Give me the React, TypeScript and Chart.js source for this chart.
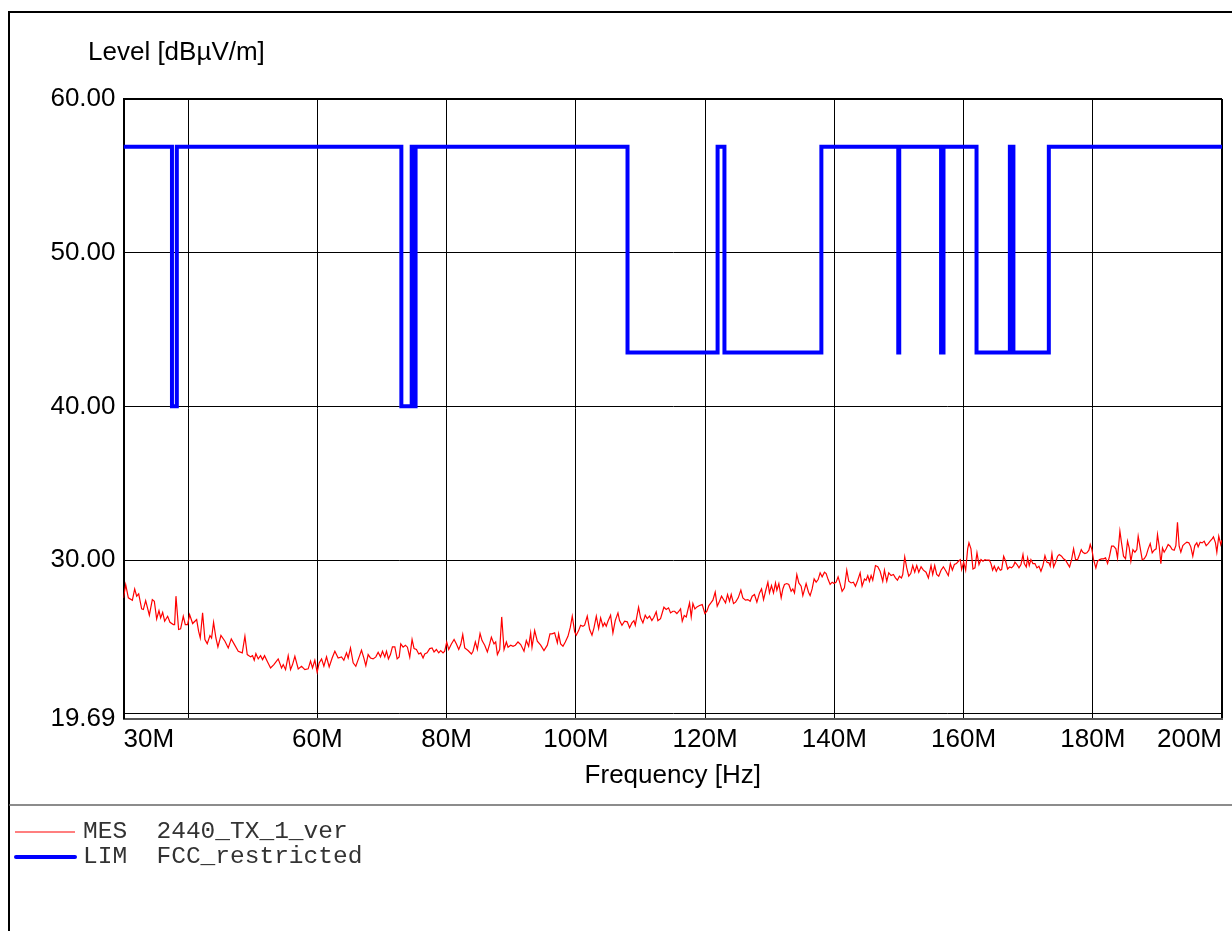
import React, { useEffect, useRef } from "react";
import { Chart, registerables } from "chart.js";

Chart.register(...registerables);

// ---------- data ----------
const Y_TITLE = "Level [dBµV/m]";
const X_TITLE = "Frequency [Hz]";
const X_TICKS = [30, 40, 60, 80, 100, 120, 140, 160, 180, 200];
const X_TICK_LABELS = ["30M", "", "60M", "80M", "100M", "120M", "140M", "160M", "180M", "200M"];
const Y_TICKS = [19.69, 20, 30, 40, 50, 60];
const Y_TICK_LABELS = ["19.69", "", "30.00", "40.00", "50.00", "60.00"];

const LEGEND_KIND = ["MES", "LIM"];
const LEGEND_NAME = ["2440_TX_1_ver", "FCC_restricted"];

// measured level (MHz / dBµV/m)
const MES_FREQ = [
  30.0, 30.34, 30.75, 31.37, 31.73, 32.04, 32.35, 32.81, 33.07, 33.43,
  34.0, 34.46, 34.77, 35.13, 35.49, 35.75, 36.06, 36.37, 36.83, 37.19,
  37.71, 37.91, 38.12, 38.53, 38.84, 39.25, 39.56, 39.92, 40.23, 40.7,
  41.32, 41.62, 41.88, 42.24, 42.6, 42.96, 43.38, 43.63, 43.94, 44.3,
  44.61, 45.08, 45.7, 46.21, 46.68, 47.09, 47.76, 48.38, 48.79, 49.15,
  49.67, 49.97, 50.23, 50.49, 50.85, 51.21, 51.52, 51.83, 52.24, 52.76,
  53.27, 53.94, 54.46, 54.72, 55.08, 55.49, 55.85, 56.16, 56.52, 57.04,
  57.55, 58.07, 58.58, 58.94, 59.25, 59.61, 59.97, 60.28, 60.65, 61.01,
  61.42, 61.83, 62.29, 62.71, 63.22, 63.74, 64.1, 64.51, 64.77, 65.13,
  65.54, 65.95, 66.47, 66.83, 67.19, 67.5, 67.86, 68.22, 68.63, 69.05,
  69.41, 69.77, 70.08, 70.44, 70.7, 71.0, 71.31, 71.62, 71.99, 72.35,
  72.66, 72.91, 73.27, 73.63, 73.94, 74.3, 74.66, 74.97, 75.33, 75.69,
  76.0, 76.36, 76.62, 76.98, 77.39, 77.75, 78.06, 78.42, 78.78, 79.09,
  79.45, 79.71, 80.02, 80.33, 80.74, 81.16, 81.52, 81.88, 82.19, 82.5,
  82.81, 83.32, 83.84, 84.09, 84.45, 84.76, 85.18, 85.49, 85.9, 86.31,
  86.67, 86.93, 87.34, 87.6, 87.86, 88.22, 88.53, 88.89, 89.25, 89.51,
  89.92, 90.28, 90.64, 91.05, 91.47, 91.98, 92.34, 92.7, 93.01, 93.22,
  93.63, 94.04, 94.56, 95.07, 95.59, 96.0, 96.31, 96.72, 97.14, 97.34,
  97.65, 98.01, 98.37, 98.78, 99.15, 99.45, 99.82, 100.07, 100.43, 100.74,
  101.1, 101.36, 101.77, 102.14, 102.5, 102.81, 103.17, 103.53, 103.84, 104.2,
  104.45, 104.71, 104.97, 105.38, 105.74, 106.1, 106.52, 106.77, 107.14, 107.55,
  107.96, 108.32, 108.68, 108.99, 109.2, 109.71, 110.02, 110.38, 110.74, 111.05,
  111.41, 111.77, 112.08, 112.44, 112.7, 113.11, 113.63, 113.99, 114.35, 114.66,
  115.02, 115.28, 115.64, 115.95, 116.21, 116.47, 116.78, 117.09, 117.35, 117.6,
  117.86, 118.12, 118.43, 118.74, 119.15, 119.56, 119.97, 120.28, 120.59, 120.9,
  121.21, 121.57, 121.88, 122.24, 122.55, 122.86, 123.17, 123.48, 123.79, 124.05,
  124.41, 124.72, 125.13, 125.54, 125.85, 126.26, 126.62, 126.98, 127.29, 127.65,
  128.02, 128.43, 128.74, 129.05, 129.36, 129.72, 129.97, 130.28, 130.59, 130.9,
  131.11, 131.42, 131.78, 132.04, 132.29, 132.65, 132.96, 133.32, 133.58, 133.84,
  134.2, 134.51, 134.87, 135.13, 135.39, 135.64, 136.01, 136.26, 136.57, 136.88,
  137.19, 137.5, 137.81, 138.12, 138.48, 138.74, 139.05, 139.36, 139.67, 139.97,
  140.28, 140.59, 140.9, 141.21, 141.57, 141.93, 142.24, 142.6, 142.96, 143.27,
  143.63, 144.0, 144.3, 144.67, 144.92, 145.18, 145.44, 145.7, 145.95, 146.37,
  146.73, 147.09, 147.5, 147.76, 148.12, 148.43, 148.79, 149.15, 149.46, 149.77,
  150.08, 150.39, 150.59, 150.9, 151.21, 151.52, 151.83, 152.14, 152.45, 152.76,
  153.07, 153.43, 153.79, 154.2, 154.56, 154.97, 155.23, 155.54, 155.85, 156.16,
  156.52, 156.88, 157.29, 157.55,
  157.65, 157.96, 158.27, 158.58, 158.89, 159.2, 159.5, 159.71, 160.02, 160.33,
  160.64, 160.84, 161.15, 161.46, 161.77, 162.08, 162.39, 162.7, 163.01, 163.32,
  163.63, 163.99, 164.25, 164.5, 164.76, 165.07, 165.38, 165.69, 165.9, 166.21,
  166.52, 166.82, 167.13, 167.44, 167.75, 167.96, 168.27, 168.58, 168.89, 169.2,
  169.4, 169.71, 169.92, 170.17, 170.43, 170.74, 171.05, 171.36, 171.67, 171.98,
  172.29, 172.6, 172.91, 173.22, 173.42, 173.68, 173.94, 174.25, 174.56, 174.81,
  175.17, 175.48, 175.79, 176.1, 176.41, 176.72, 177.03, 177.34, 177.65, 177.96,
  178.22, 178.47, 178.78, 179.09, 179.4, 179.61, 179.87, 180.12, 180.48, 180.74,
  181.05, 181.36, 181.67, 181.98, 182.29, 182.6, 182.91, 183.22, 183.58, 183.83,
  184.2, 184.45, 184.76, 185.07, 185.38, 185.64, 185.9, 186.21, 186.52, 186.82,
  187.03, 187.34, 187.65, 187.96, 188.27, 188.58, 188.89, 189.2, 189.5, 189.81,
  190.02, 190.28, 190.54, 190.79, 191.05, 191.36, 191.67, 191.98, 192.29, 192.6,
  192.86, 193.11, 193.37, 193.63, 193.94, 194.25, 194.56, 194.87, 195.17, 195.48,
  195.79, 196.1, 196.31, 196.62, 196.93, 197.24, 197.55, 197.86, 198.16, 198.47,
  198.68, 198.99, 199.2, 199.5, 199.81, 200.0,
];

const MES_LEVEL = [
  27.54, 28.40, 27.54, 27.38, 28.12, 27.65, 27.80, 26.82, 26.78, 27.36,
  26.41, 27.43, 27.32, 26.17, 26.71, 26.24, 26.60, 26.02, 26.34, 25.95,
  25.80, 25.80, 27.65, 25.48, 25.52, 26.34, 25.80, 25.80, 26.45, 25.87,
  26.13, 25.37, 24.93, 26.56, 24.83, 24.56, 25.09, 24.93, 25.95, 24.93,
  24.35, 25.09, 24.72, 24.28, 24.87, 24.56, 24.07, 23.96, 25.04, 23.85,
  23.70, 23.78, 23.48, 23.91, 23.57, 23.78, 23.52, 23.78, 23.42, 22.98,
  23.20, 23.57, 22.98, 23.20, 22.87, 23.78, 22.87, 23.20, 23.74, 22.92,
  23.09, 22.87, 22.92, 23.42, 22.98, 23.48, 22.70, 23.31, 23.57, 23.09,
  23.70, 23.05, 23.63, 24.07, 23.63, 23.70, 23.48, 23.96, 23.63, 24.28,
  23.31, 23.09, 23.70, 24.13, 23.63, 23.13, 23.85, 23.63, 23.57, 23.70,
  24.00, 23.70, 24.07, 23.70, 24.07, 23.57, 23.85, 24.35, 24.35, 23.57,
  23.70, 24.54, 24.33, 24.46, 24.33, 23.68, 24.83, 24.24, 24.18, 23.89,
  23.96, 23.63, 23.89, 23.96, 24.24, 24.28, 24.02, 24.18, 23.96, 24.11,
  23.96, 24.07, 24.67, 24.18, 24.54, 24.83, 24.54, 24.18, 24.50, 25.15,
  24.28, 24.11, 23.89, 24.07, 24.67, 24.18, 25.22, 24.76, 24.46, 24.02,
  24.54, 24.98, 24.54, 24.67, 23.85, 24.18, 26.30, 24.18, 24.67, 24.33,
  24.46, 24.39, 24.46, 24.67, 24.50, 24.07, 24.76, 24.39, 25.26, 24.33,
  25.41, 24.72, 24.46, 24.11, 24.46, 25.20, 25.20, 25.26, 24.61, 25.20,
  24.54, 24.39, 24.67, 25.04, 25.63, 26.35, 25.33, 25.11, 25.41, 25.76,
  25.69, 25.76, 26.35, 25.48, 25.11, 25.59, 26.35, 25.54, 26.24, 25.69,
  25.91, 25.69, 26.02, 26.41, 25.26, 26.06, 26.56, 26.06, 25.76, 26.02,
  25.98, 25.59, 25.91, 26.06, 25.76, 26.93, 26.24, 25.91, 26.41, 26.19,
  26.35, 26.06, 26.28, 26.63, 26.06, 26.19, 26.93, 26.78, 26.89, 26.56,
  26.67, 26.67, 26.52, 26.67, 26.82, 26.02, 26.39, 26.30, 26.78, 27.21,
  26.30, 27.17, 26.82, 26.95, 27.04, 27.10, 26.52, 26.67, 27.04, 27.21,
  27.39, 27.91, 27.00, 27.32, 27.65, 27.43, 27.21, 27.76, 27.32, 27.76,
  27.17, 27.26, 27.54, 28.04, 27.54, 27.39, 27.43, 27.32, 27.65, 27.76,
  27.26, 27.86, 28.12, 27.43, 27.97, 28.56, 27.86, 28.34, 27.86, 28.51,
  28.04, 28.47, 27.54, 28.12, 28.41, 28.47, 28.41, 27.97, 28.12, 27.86,
  29.06, 28.51, 28.30, 27.69, 28.08, 28.47, 27.91, 27.69, 28.12, 28.77,
  28.56, 28.73, 29.17, 28.91, 29.21, 29.12, 28.73, 28.41, 28.56, 28.47,
  28.56, 28.91, 28.47, 27.97, 28.19, 29.34, 28.62, 28.51, 28.56, 28.30,
  28.69, 29.17, 28.30, 28.77, 28.69, 28.99, 28.62, 28.99, 28.69, 29.64,
  29.56, 29.27, 28.62, 29.34, 28.62, 29.17, 28.99, 29.06, 28.84, 28.69,
  28.95, 28.84, 29.06, 30.21, 29.49, 28.95, 29.12, 29.64, 29.21, 29.64,
  29.21, 29.56, 29.34, 29.21, 28.84, 29.64, 29.06, 29.64, 29.06, 28.95,
  29.34, 29.56, 29.27, 29.06,
  28.99, 29.77, 29.34, 29.71, 29.77, 29.92, 30.03, 29.38, 29.86, 29.34,
  30.73, 31.12, 30.73, 29.42, 29.49, 30.47, 29.71, 30.03, 29.92, 30.03,
  29.99, 29.99, 29.77, 29.34, 29.60, 29.27, 29.55, 29.34, 29.38, 30.25,
  29.92, 29.42, 29.55, 29.49, 29.64, 29.86, 29.71, 29.49, 29.71, 30.36,
  29.77, 29.55, 30.14, 29.64, 30.03, 29.77, 29.77, 29.49, 29.60, 29.27,
  29.64, 30.29, 29.86, 29.82, 29.60, 30.42, 29.55, 29.86, 30.25, 30.36,
  30.25, 30.08, 29.99, 29.77, 29.55, 30.03, 30.73, 30.03, 30.03, 30.36,
  30.68, 30.51, 30.42, 30.47, 30.64, 31.01, 30.68, 30.03, 29.49, 29.92,
  30.03, 30.08, 30.08, 30.14, 29.77, 30.25, 30.90, 30.90, 30.73, 30.14,
  31.88, 31.12, 30.25, 30.08, 31.23, 30.79, 29.92, 30.68, 30.51, 30.68,
  31.55, 30.79, 30.03, 30.08, 30.29, 30.73, 31.07, 30.47, 30.64, 30.73,
  31.66, 30.90, 29.77, 30.79, 30.51, 30.73, 31.01, 30.90, 30.68, 30.64,
  30.94, 32.46, 30.90, 30.51, 30.94, 31.07, 31.16, 31.12, 30.86, 30.25,
  30.94, 31.12, 30.86, 31.16, 31.12, 31.23, 30.94, 31.07, 31.23, 31.38,
  31.51, 31.12, 30.51, 31.55, 31.01, 31.30,
];

// limit line: level holds from each frequency up to the next one (MHz / dBµV/m)
const LIM_FREQ = [
  30, 37.5, 38.25, 73, 74.6, 74.8, 75.2, 108, 121.94, 123, 138,
  149.9, 150.05, 156.52475, 156.52525, 156.7, 156.9, 162.0125, 167.17,
  167.72, 173.2, 200,
];
const LIM_LEVEL = [
  56.9, 40, 56.9, 40, 56.9, 40, 56.9, 43.5, 56.9, 43.5, 56.9,
  43.5, 56.9, 43.5, 56.9, 43.5, 56.9, 43.5, 56.9,
  43.5, 56.9, 56.9,
];

const SANS = '"Liberation Sans", Arial, Helvetica, sans-serif';
const MONO = '"Liberation Mono", "DejaVu Sans Mono", monospace';
const FONT_SIZE = 26;

const decorPlugin = {
  id: "decor",
  afterDraw(chart: any) {
    const ctx = chart.ctx as CanvasRenderingContext2D;
    ctx.save();
    // outer frame
    ctx.strokeStyle = "#000";
    ctx.lineWidth = 2;
    ctx.beginPath();
    ctx.moveTo(9, 960);
    ctx.lineTo(9, 12);
    ctx.lineTo(1260, 12);
    ctx.stroke();
    // separator above legend
    ctx.strokeStyle = "#666";
    ctx.lineWidth = 1.5;
    ctx.beginPath();
    ctx.moveTo(9, 805);
    ctx.lineTo(1260, 805);
    ctx.stroke();
    // y title
    ctx.fillStyle = "#000";
    ctx.font = `${FONT_SIZE}px ${SANS}`;
    ctx.textAlign = "left";
    ctx.textBaseline = "middle";
    ctx.fillText(Y_TITLE, 88, 53);
    // legend
    chart.data.datasets.forEach((ds: any, i: number) => {
      const y = 832 + i * 25;
      ctx.strokeStyle = ds.borderColor;
      ctx.lineWidth = ds.borderWidth;
      ctx.lineCap = i === 1 ? "round" : "butt";
      ctx.beginPath();
      ctx.moveTo(i === 1 ? 16 : 15, y);
      ctx.lineTo(75, y);
      ctx.stroke();
      ctx.fillStyle = "#333";
      ctx.font = `24.5px ${MONO}`;
      ctx.textBaseline = "middle";
      ctx.fillText(`${LEGEND_KIND[i]}  ${LEGEND_NAME[i]}`, 83, y);
    });
    ctx.restore();
  },
};

export default function App() {
  const ref = useRef<HTMLCanvasElement | null>(null);

  useEffect(() => {
    if (!ref.current) return;
    const n = Math.min(MES_FREQ.length, MES_LEVEL.length);
    const mes = [] as { x: number; y: number }[];
    for (let i = 0; i < n; i++) mes.push({ x: MES_FREQ[i], y: MES_LEVEL[i] });
    const lim = LIM_FREQ.map((f, i) => ({ x: f, y: LIM_LEVEL[i] }));

    const chart = new Chart(ref.current, {
      type: "line",
      data: {
        datasets: [
          {
            label: `${LEGEND_KIND[0]} ${LEGEND_NAME[0]}`,
            data: mes,
            borderColor: "#ff0000",
            borderWidth: 1.2,
            pointRadius: 0,
            tension: 0,
            fill: false,
          },
          {
            label: `${LEGEND_KIND[1]} ${LEGEND_NAME[1]}`,
            data: lim,
            borderColor: "#0000ff",
            borderWidth: 4,
            pointRadius: 0,
            stepped: true,
            borderJoinStyle: "miter",
            fill: false,
          },
        ],
      },
      options: {
        responsive: false,
        animation: false,
        devicePixelRatio: 1,
        events: [],
        layout: { padding: { left: 0, right: 10, top: 99, bottom: 132.5 } },
        plugins: {
          legend: { display: false },
          tooltip: { enabled: false },
          title: { display: false },
        },
        scales: {
          x: {
            type: "linear",
            min: 30,
            max: 200,
            afterBuildTicks: (s: any) => {
              s.ticks = X_TICKS.map((v) => ({ value: v }));
            },
            afterFit: (s: any) => {
              s.height = 80;
            },
            ticks: {
              autoSkip: false,
              maxRotation: 0,
              minRotation: 0,
              align: "inner",
              padding: 6,
              color: "#000",
              font: { family: SANS, size: FONT_SIZE },
              callback: (v: any) => X_TICK_LABELS[X_TICKS.indexOf(Number(v))] ?? "",
            },
            grid: {
              color: "#000",
              lineWidth: (c: any) => (c.tick && c.tick.value === 200 ? 2 : 1),
              drawTicks: false,
            },
            border: { display: true, color: "#555", width: 2 },
            title: {
              display: true,
              text: X_TITLE,
              color: "#000",
              font: { family: SANS, size: FONT_SIZE },
              padding: { top: 0, bottom: 7 },
            },
          },
          y: {
            type: "linear",
            min: 19.69,
            max: 60,
            afterBuildTicks: (s: any) => {
              s.ticks = Y_TICKS.map((v) => ({ value: v }));
            },
            afterFit: (s: any) => {
              s.width = 123.5;
            },
            ticks: {
              autoSkip: false,
              padding: 8,
              color: "#000",
              font: { family: SANS, size: FONT_SIZE },
              callback: (v: any) => Y_TICK_LABELS[Y_TICKS.indexOf(Number(v))] ?? "",
            },
            grid: {
              color: "#000",
              lineWidth: (c: any) => (c.tick && c.tick.value === 60 ? 2 : 1),
              drawTicks: false,
            },
            border: { display: true, color: "#000", width: 2 },
          },
        },
      },
      plugins: [decorPlugin],
    } as any);

    return () => chart.destroy();
  }, []);

  return (
    <div
      style={{
        position: "fixed",
        left: 0,
        top: 0,
        width: 1232,
        height: 931,
        overflow: "hidden",
        background: "#fff",
      }}
    >
      <canvas ref={ref} width={1232} height={931} style={{ display: "block" }} />
    </div>
  );
}
